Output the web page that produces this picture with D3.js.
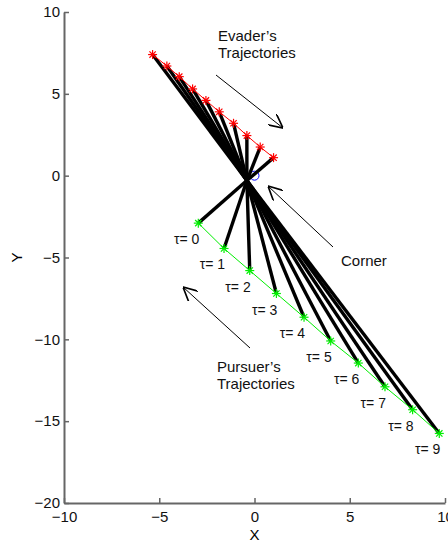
<!DOCTYPE html>
<html>
<head>
<meta charset="utf-8">
<script src="https://cdn.jsdelivr.net/npm/d3@7"></script>
<style>
  body { margin: 0; background: #fff; }
  text { font-family: "Liberation Sans", Arial, sans-serif; }
</style>
</head>
<body>
<div id="chart"></div>
<script>
// data
var evaderX = [-5.35, -4.6, -3.95, -3.25, -2.55, -1.85, -1.1, -0.4, 0.3, 1.0];
var evaderY = [7.4, 6.7, 6.05, 5.3, 4.6, 3.9, 3.2, 2.45, 1.75, 1.1];
var pursuerX = [-2.95, -1.6, -0.25, 1.15, 2.6, 4.0, 5.45, 6.85, 8.3, 9.7];
var pursuerY = [-2.9, -4.45, -5.8, -7.2, -8.65, -10.1, -11.45, -12.9, -14.3, -15.75];
var tauLabels = ["τ= 0", "τ= 1", "τ= 2", "τ= 3", "τ= 4", "τ= 5", "τ= 6", "τ= 7", "τ= 8", "τ= 9"];
var meetPoint = [-0.4, -0.3];
var cornerPoint = [0, 0];
var xTicks = [-10, -5, 0, 5, 10];
var yTicks = [-20, -15, -10, -5, 0, 5, 10];

var svgWidth = 448;
var svgHeight = 542;

var svg = d3.select("#chart")
  .append("svg")
  .attr("width", svgWidth)
  .attr("height", svgHeight);

var x = d3.scaleLinear().domain([-10, 10]).range([64, 445]);
var y = d3.scaleLinear().domain([-20, 10]).range([503, 12]);

var fmt = function(d) { return d < 0 ? "\u2212" + Math.abs(d) : String(d); };

// axes, ticks pointing inward
var xAxis = svg.append("g")
  .attr("transform", "translate(0," + y(-20) + ")")
  .call(d3.axisBottom(x).tickValues(xTicks).tickFormat(fmt)
    .tickSizeInner(-5).tickSizeOuter(0).tickPadding(8));
var yAxis = svg.append("g")
  .attr("transform", "translate(" + x(-10) + ",0)")
  .call(d3.axisLeft(y).tickValues(yTicks).tickFormat(fmt)
    .tickSizeInner(-5).tickSizeOuter(0).tickPadding(4));

[xAxis, yAxis].forEach(function(a) {
  a.select(".domain").attr("stroke", "#666").attr("stroke-width", 2);
  a.selectAll(".tick line").attr("stroke", "#666").attr("stroke-width", 1.5);
  a.selectAll(".tick text").attr("fill", "#111")
    .style("font-size", "15px").style("font-family", "Liberation Sans, Arial, sans-serif");
});

svg.append("text")
  .attr("x", x(0)).attr("y", 540)
  .attr("text-anchor", "middle")
  .style("font-size", "15px")
  .text("X");
svg.append("text")
  .attr("transform", "translate(22," + y(-5) + ") rotate(-90)")
  .attr("text-anchor", "middle")
  .style("font-size", "15px")
  .text("Y");

// corner marker
svg.append("circle")
  .attr("cx", x(cornerPoint[0])).attr("cy", y(cornerPoint[1]))
  .attr("r", 4.5)
  .attr("fill", "none")
  .attr("stroke", "blue")
  .attr("stroke-width", 1);

// thick black trajectories through the meeting point
var mx = x(meetPoint[0]), my = y(meetPoint[1]);
evaderX.forEach(function(d, i) {
  svg.append("line")
    .attr("x1", x(d)).attr("y1", y(evaderY[i]))
    .attr("x2", mx).attr("y2", my)
    .attr("stroke", "#000").attr("stroke-width", 3.4);
});
pursuerX.forEach(function(d, i) {
  svg.append("line")
    .attr("x1", mx).attr("y1", my)
    .attr("x2", x(d)).attr("y2", y(pursuerY[i]))
    .attr("stroke", "#000").attr("stroke-width", 3.4);
});

// thin lines + asterisk markers
var line = d3.line().x(function(d) { return x(d[0]); }).y(function(d) { return y(d[1]); });
var evPts = d3.zip(evaderX, evaderY);
var puPts = d3.zip(pursuerX, pursuerY);

function star(g, pts, color) {
  pts.forEach(function(p) {
    var cx = x(p[0]), cy = y(p[1]), r = 4.5;
    var s = g.append("g").attr("stroke", color).attr("stroke-width", 1.2);
    s.append("line").attr("x1", cx - r).attr("y1", cy).attr("x2", cx + r).attr("y2", cy);
    s.append("line").attr("x1", cx).attr("y1", cy - r).attr("x2", cx).attr("y2", cy + r);
    s.append("line").attr("x1", cx - r * 0.7).attr("y1", cy - r * 0.7).attr("x2", cx + r * 0.7).attr("y2", cy + r * 0.7);
    s.append("line").attr("x1", cx - r * 0.7).attr("y1", cy + r * 0.7).attr("x2", cx + r * 0.7).attr("y2", cy - r * 0.7);
  });
}

svg.append("path").datum(evPts).attr("d", line)
  .attr("fill", "none").attr("stroke", "#ff0000").attr("stroke-width", 1);
svg.append("path").datum(puPts).attr("d", line)
  .attr("fill", "none").attr("stroke", "#00ee00").attr("stroke-width", 1);
star(svg, evPts, "#ff0000");
star(svg, puPts, "#00ee00");

// tau labels
svg.selectAll(".tau")
  .data(puPts)
  .enter()
  .append("text")
  .attr("class", "tau")
  .attr("x", function(d) { return x(d[0]) + 1; })
  .attr("y", function(d) { return y(d[1]) + 21; })
  .attr("text-anchor", "end")
  .style("font-size", "14px")
  .attr("fill", "#111")
  .text(function(d, i) { return tauLabels[i]; });

// annotations
svg.append("defs").append("marker")
  .attr("id", "head")
  .attr("viewBox", "0 0 10 10")
  .attr("refX", 10).attr("refY", 5)
  .attr("markerWidth", 14).attr("markerHeight", 14)
  .attr("markerUnits", "userSpaceOnUse")
  .attr("orient", "auto")
  .append("path")
  .attr("d", "M0,0 L10,5 L0,10")
  .attr("fill", "none").attr("stroke", "#000").attr("stroke-width", 1.2);

function arrow(x1, y1, x2, y2) {
  svg.append("line")
    .attr("x1", x1).attr("y1", y1).attr("x2", x2).attr("y2", y2)
    .attr("stroke", "#000").attr("stroke-width", 1)
    .attr("marker-end", "url(#head)");
}
arrow(216, 75, 283, 128);
arrow(333, 247, 268, 186);
arrow(250, 348, 183, 287);

function note(x0, y0, lines) {
  var t = svg.append("text").attr("x", x0).attr("y", y0)
    .style("font-size", "15px").attr("fill", "#111");
  lines.forEach(function(s, i) {
    t.append("tspan").attr("x", x0).attr("dy", i ? 17 : 0).text(s);
  });
}
note(218, 41, ["Evader\u2019s", "Trajectories"]);
note(341, 266, ["Corner"]);
note(217, 372, ["Pursuer\u2019s", "Trajectories"]);
</script>
</body>
</html>
